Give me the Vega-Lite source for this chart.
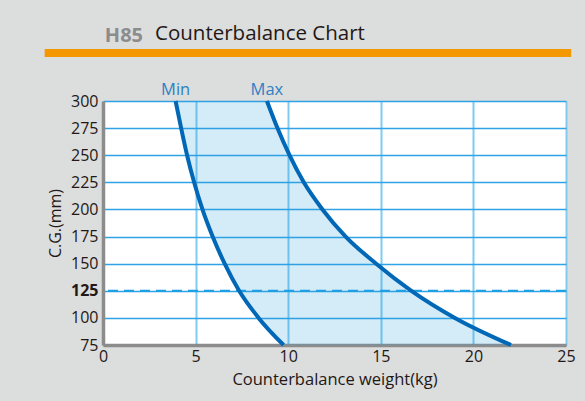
{
  "$schema": "https://vega.github.io/schema/vega-lite/v6.json",
  "width": 463,
  "height": 244,
  "autosize": {"type": "none"},
  "padding": {"left": 103, "top": 101, "right": 19, "bottom": 56},
  "background": "#dcdddd",
  "title": {
    "text": "Counterbalance Chart",
    "anchor": "start",
    "frame": "group",
    "dx": 52,
    "dy": 22,
    "offset": 4,
    "font": "Open Sans",
    "fontSize": 20.5,
    "fontWeight": "normal",
    "color": "#231815"
  },
  "config": {
    "view": {"fill": "white", "stroke": null},
    "font": "Open Sans"
  },
  "datasets": {
    "curves": [
      {"cg": 75, "Min": 9.75, "Max": 22.03},
      {"cg": 100, "Min": 8.4, "Max": 19.0},
      {"cg": 125, "Min": 7.35, "Max": 16.65},
      {"cg": 150, "Min": 6.57, "Max": 14.75},
      {"cg": 175, "Min": 5.92, "Max": 13.1},
      {"cg": 200, "Min": 5.37, "Max": 11.85},
      {"cg": 225, "Min": 4.92, "Max": 10.84},
      {"cg": 250, "Min": 4.54, "Max": 10.07},
      {"cg": 275, "Min": 4.22, "Max": 9.42},
      {"cg": 300, "Min": 3.92, "Max": 8.85}
    ],
    "one": [{"model": "H85"}]
  },
  "data": {"name": "curves"},
  "layer": [
    {
      "mark": {"type": "area", "orient": "horizontal", "interpolate": "monotone", "color": "#289bdc", "opacity": 0.2},
      "encoding": {
        "y": {
          "field": "cg", "type": "quantitative",
          "scale": {"domain": [75, 300], "nice": false, "zero": false},
          "axis": {
            "values": [75, 100, 125, 150, 175, 200, 225, 250, 275, 300],
            "tickCount": 20,
            "title": "C.G.(mm)",
            "grid": true, "gridColor": "#2fa3e6", "gridWidth": 1.4,
            "domainColor": "#8c8c8c", "domainWidth": 3.5,
            "ticks": false, "labelFlush": false, "labelOverlap": false,
            "labelFont": "Open Sans", "labelFontSize": 16, "labelColor": "#231815", "labelPadding": 5,
            "labelFontWeight": {"condition": {"test": "datum.value === 125", "value": "bold"}, "value": "normal"},
            "titleFont": "Open Sans", "titleFontSize": 16, "titleFontWeight": "normal", "titleColor": "#231815", "titlePadding": 7
          }
        },
        "x": {
          "field": "Min", "type": "quantitative",
          "scale": {"domain": [0, 25], "nice": false},
          "axis": {
            "values": [0, 5, 10, 15, 20, 25],
            "tickCount": 20,
            "title": "Counterbalance weight(kg)",
            "grid": true, "gridColor": "#7fcbf1", "gridWidth": 2,
            "domainColor": "#8c8c8c", "domainWidth": 3.5,
            "ticks": false, "labelFlush": false, "labelOverlap": false,
            "labelFont": "Open Sans", "labelFontSize": 16, "labelColor": "#231815", "labelPadding": 3,
            "titleFont": "Open Sans", "titleFontSize": 16.5, "titleFontWeight": "normal", "titleColor": "#231815", "titlePadding": 7
          }
        },
        "x2": {"field": "Max"}
      }
    },
    {
      "data": {"name": "one"},
      "mark": {"type": "rule", "color": "#1d9fe5", "strokeWidth": 2, "strokeDash": [10, 6]},
      "encoding": {"y": {"datum": 125}}
    },
    {
      "transform": [{"fold": ["Min", "Max"], "as": ["series", "weight"]}],
      "mark": {"type": "line", "orient": "horizontal", "interpolate": "monotone", "color": "#0068b7", "strokeWidth": 4},
      "encoding": {
        "x": {"field": "weight", "type": "quantitative"},
        "y": {"field": "cg", "type": "quantitative"},
        "detail": {"field": "series"}
      }
    },
    {
      "transform": [{"fold": ["Min", "Max"], "as": ["series", "weight"]}, {"filter": "datum.cg === 300"}],
      "mark": {"type": "text", "align": "center", "baseline": "alphabetic", "dy": -6, "fontSize": 16.5, "color": "#2f80c4", "font": "Open Sans"},
      "encoding": {
        "x": {"field": "weight", "type": "quantitative"},
        "y": {"field": "cg", "type": "quantitative"},
        "text": {"field": "series"}
      }
    },
    {
      "data": {"name": "one"},
      "mark": {"type": "rule", "color": "#f39800", "strokeWidth": 8},
      "encoding": {"x": {"datum": -3.15}, "x2": {"datum": 25.28}, "y": {"datum": 344.3}}
    },
    {
      "data": {"name": "one"},
      "mark": {"type": "text", "align": "left", "baseline": "alphabetic", "fontSize": 20, "fontWeight": "bold", "color": "#8c8c8c", "font": "Open Sans"},
      "encoding": {"x": {"datum": 0.1}, "y": {"datum": 354.3}, "text": {"field": "model"}}
    }
  ]
}
